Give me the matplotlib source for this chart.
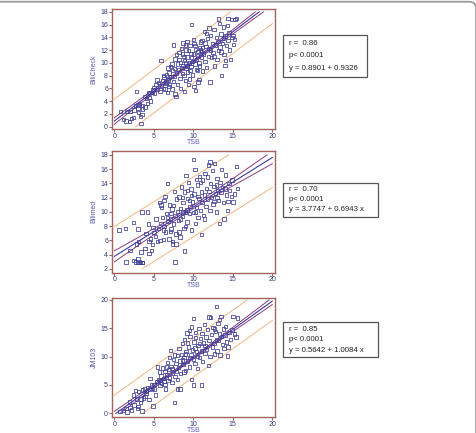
import numpy as np
import matplotlib
matplotlib.use("Agg")
import matplotlib.pyplot as plt
from matplotlib.patches import FancyBboxPatch

plt.rcParams['font.family'] = ['Liberation Sans', 'DejaVu Sans']

# ---------------- data ----------------
tsb_1 = [0.8,1.2,1.5,1.6,2.0,2.2,2.5,2.7,2.8,3.0,3.1,3.3,3.4,3.5,3.2,3.6,3.8,3.9,4.1,4.3,4.5,4.6,4.8,4.9,3.6,2.4,1.9,4.2,3.0,4.4,
         5.0,5.1,5.3,5.5,5.6,5.8,5.9,6.0,6.1,6.2,6.3,6.4,6.5,6.6,6.7,6.8,6.9,7.0,7.1,7.2,7.3,7.4,7.5,7.6,7.7,7.8,7.9,8.0,7.5,6.6,6.2,5.4,6.8,7.7,7.9,8.0,7.3,6.9,7.6,
         8.1,8.2,8.3,8.4,8.5,8.6,8.7,8.8,8.9,9.0,9.0,9.1,9.2,9.3,9.4,9.5,9.5,9.6,9.7,9.8,9.9,10.0,10.1,10.1,10.2,10.3,10.3,10.4,10.5,10.6,10.7,10.8,10.9,11.0,9.8,10.0,8.4,8.7,8.9,9.2,9.4,10.6,10.9,8.6,9.1,9.7,10.2,10.4,9.3,10.7,8.2,9.6,10.5,8.8,9.9,9.0,10.8,8.5,
         11.1,11.2,11.3,11.4,11.5,11.6,11.7,11.8,11.9,12.0,12.1,12.2,12.3,12.4,12.5,12.6,12.7,12.8,12.9,13.0,13.1,13.2,13.3,13.4,13.5,13.6,13.7,13.8,13.9,14.0,14.1,14.2,14.3,14.4,14.5,14.6,14.8,15.0,15.2,15.3,15.5,15.1,14.7,14.0,13.2,12.0,11.7,11.2,12.6,13.5,14.4,14.9,11.0,12.2,13.8,11.5]
bilicheck = [2.4,1.1,0.9,2.4,2.4,1.3,2.6,3.3,5.5,2.9,2.2,1.6,0.5,1.9,3.6,3.3,4.7,3.1,4.4,5.3,5.4,4.0,5.4,5.8,2.8,1.4,0.8,3.6,3.4,4.6,
             6.1,5.3,6.6,5.8,6.9,5.5,10.4,6.4,7.2,6.0,7.8,5.9,6.8,8.1,5.4,7.3,8.4,6.6,9.4,7.9,5.9,8.8,7.1,9.1,5.1,4.7,8.4,9.8,12.8,7.0,8.0,7.3,9.2,10.6,11.3,6.6,9.8,6.3,7.9,
             9.0,11.6,7.6,10.1,12.3,8.3,9.6,11.0,10.4,7.2,12.8,9.1,10.9,8.6,11.9,10.0,7.5,12.7,9.4,10.8,8.1,11.4,6.3,13.0,9.8,5.7,12.1,10.5,8.8,11.8,7.4,9.5,13.3,10.9,16.0,13.7,6.0,13.1,5.5,13.4,6.6,7.0,12.0,11.4,12.0,11.5,12.7,9.0,9.5,10.0,10.5,8.8,11.1,8.0,10.2,10.0,12.4,9.3,
             13.5,8.7,11.4,14.9,10.2,12.6,9.3,13.8,11.0,12.3,7.0,14.3,10.8,13.0,11.6,15.2,9.5,12.8,14.0,10.5,13.4,11.9,16.2,12.5,14.5,8.0,13.0,15.6,11.3,14.2,10.4,12.7,15.9,13.5,14.8,12.0,16.8,14.3,13.7,16.8,17.0,12.9,10.5,9.6,16.9,15.5,14.6,12.4,11.0,11.7,17.0,14.0,11.8,12.0,13.9,13.1]

tsb_2 = [0.6,1.4,1.5,2.0,2.4,2.5,2.7,2.9,3.0,3.2,3.3,3.5,3.6,3.0,2.8,3.4,3.5,4.2,4.3,4.4,4.6,4.8,4.4,3.9,4.9,4.0,5.0,4.7,3.1,
         5.2,5.3,5.5,5.6,5.7,5.8,5.9,6.0,6.1,6.2,6.3,6.4,6.5,6.6,6.7,6.8,6.9,7.0,7.1,7.2,7.3,7.4,7.5,7.6,7.7,7.7,7.8,7.9,8.0,7.8,7.4,6.7,5.9,6.2,7.1,7.5,6.3,7.2,
         8.1,8.2,8.3,8.4,8.5,8.6,8.7,8.8,8.9,8.9,9.0,9.1,9.2,9.3,9.4,9.5,9.6,9.7,9.8,9.9,10.0,10.0,10.1,10.2,10.3,10.4,10.5,10.6,10.7,10.8,10.9,11.0,11.0,8.4,8.7,9.2,9.5,10.3,10.6,9.0,8.2,9.8,10.4,9.3,8.6,10.9,
         11.1,11.2,11.3,11.4,11.5,11.6,11.7,11.8,11.9,12.0,12.1,12.2,12.3,12.4,12.5,12.6,12.7,12.8,12.9,13.0,13.1,13.2,13.3,13.4,13.5,13.6,13.7,13.8,13.9,14.0,14.1,14.2,14.4,14.6,14.8,15.0,15.2,15.5,15.6,14.9,14.3,12.1,11.4,12.9,11.8,13.0,14.5,12.6]
bilimed = [7.5,7.7,3.0,4.6,8.5,3.2,3.0,2.9,3.4,3.0,2.9,2.9,2.9,7.6,5.5,4.4,10.0,10.0,8.3,5.9,6.2,5.4,4.2,4.9,7.8,7.0,7.1,4.6,5.9,
           6.6,9.0,5.9,7.7,11.3,6.0,8.4,10.6,9.2,6.1,8.0,12.2,7.2,9.8,14.0,8.7,6.2,11.0,9.0,7.6,10.4,5.5,8.3,12.9,3.0,9.5,6.9,11.8,10.1,5.5,5.9,9.2,11.0,7.5,7.3,10.9,11.6,9.8,
           8.8,12.1,6.5,10.5,13.5,9.4,11.3,7.7,4.5,12.8,10.0,15.1,8.6,11.9,14.1,9.8,10.8,13.2,7.5,11.4,17.4,9.9,12.5,16.0,8.4,10.6,13.8,9.2,11.9,15.0,10.2,12.8,6.8,9.0,10.0,10.3,11.6,10.0,12.2,8.0,7.2,12.3,14.6,13.0,12.0,14.1,
           11.3,14.5,9.5,12.4,15.4,10.8,13.3,11.8,16.6,12.9,10.2,14.0,12.0,15.8,11.1,13.6,16.8,12.6,10.0,14.7,13.0,11.6,8.4,14.1,12.7,16.0,13.4,11.3,9.0,13.2,15.2,12.4,11.5,13.0,12.2,11.4,12.5,16.4,13.3,14.5,10.2,17.0,9.0,13.8,14.9,12.0,14.0,11.5]

tsb_3 = [0.7,1.2,1.5,1.6,1.9,2.2,2.4,2.5,2.7,2.8,2.9,3.0,3.1,3.3,3.4,3.5,3.6,3.7,3.8,4.0,4.2,4.4,4.5,4.7,4.9,4.5,3.9,2.0,4.8,4.1,
         5.0,5.1,5.2,5.4,5.5,5.6,5.7,5.8,5.9,6.0,6.1,6.2,6.3,6.4,6.5,6.6,6.7,6.8,6.9,7.0,7.1,7.2,7.3,7.4,7.5,7.6,7.7,7.8,7.9,8.0,8.0,8.3,7.3,6.6,5.8,7.0,6.4,7.6,8.0,
         8.1,8.2,8.3,8.4,8.5,8.6,8.7,8.8,8.9,9.0,9.1,9.2,9.3,9.4,9.5,9.6,9.7,9.8,9.8,9.9,10.0,10.0,10.0,10.1,10.2,10.3,10.4,10.5,10.6,10.7,10.8,10.9,11.0,11.0,8.6,9.0,9.3,9.6,10.2,10.5,10.8,8.8,9.5,10.3,
         11.1,11.2,11.3,11.4,11.5,11.6,11.7,11.8,11.9,12.0,12.1,12.2,12.3,12.4,12.5,12.6,12.7,12.8,12.9,12.9,13.0,13.1,13.2,13.3,13.4,13.5,13.6,13.7,13.8,13.9,14.0,14.1,14.2,14.3,14.5,14.7,14.9,15.0,15.2,15.4,15.6,14.4,12.0,11.5,12.7,13.3]
jm103 = [0.3,0.5,0.9,0.2,2.0,0.6,3.2,1.5,4.0,2.5,0.9,1.2,3.8,1.9,2.5,0.4,4.1,2.7,4.3,3.5,4.6,2.4,4.2,5.0,1.3,6.1,3.0,1.0,4.4,3.9,
         5.1,4.3,3.2,5.6,8.2,6.0,7.3,4.9,6.6,5.3,8.0,6.1,5.6,7.4,4.3,6.9,9.0,5.8,7.7,6.2,11.1,8.3,5.4,7.0,9.5,1.9,6.5,8.8,7.4,10.2,4.3,4.3,7.9,8.2,5.8,9.9,5.1,10.3,6.0,
         8.1,11.4,9.2,7.0,10.4,12.3,8.6,9.8,13.0,7.6,10.9,14.2,9.2,11.7,8.2,13.6,10.3,15.2,6.0,11.2,16.7,9.5,5.0,12.6,8.8,14.3,10.9,7.9,12.0,15.0,9.8,13.2,11.0,5.0,9.4,10.5,12.4,9.9,11.5,10.0,12.3,7.3,14.6,13.4,
         14.1,9.1,12.4,15.7,10.6,13.5,11.3,14.8,8.4,12.9,10.0,16.9,13.9,11.7,15.1,12.3,10.5,14.4,18.9,13.0,11.0,15.8,12.8,14.0,10.3,17.1,13.6,12.1,14.9,11.4,13.8,15.3,12.6,10.1,14.3,13.0,14.7,17.1,14.0,13.5,16.8,11.7,17.0,12.0,14.9,16.6]

y_names = ["BiliCheck", "Bilimed", "JM103"]
stats_text = [["r =  0.86", "p< 0.0001", "y = 0.8901 + 0.9326"],
              ["r =  0.70", "p< 0.0001", "y = 3.7747 + 0.6943 x"],
              ["r =  0.85", "p< 0.0001", "y = 0.5642 + 1.0084 x"]]
# fitted lines as drawn: intercept, slope
line_intercepts = [0.89, 3.77, -0.2]
line_slopes = [0.933, 0.694, 1.0]
pred_half = [3.4, 4.2, 3.4]        # prediction interval half width
conf_half_mid = [0.2, 0.25, 0.2]   # confidence band half width at mean x
conf_half_zero = [0.5, 0.77, 0.55] # confidence band half width at x = 0
mean_x = [9.3, 9.3, 9.3]
y_ticks = [[0, 2, 4, 6, 8, 10, 12, 14, 16, 18],
           [2, 4, 6, 8, 10, 12, 14, 16, 18],
           [0, 5, 10, 15, 20]]
y_lims = [(-0.36, 18.4), (1.48, 18.56), (-0.7, 20.4)]
x_ticks = [0, 5, 10, 15, 20]

xs = [tsb_1, tsb_2, tsb_3]
ys = [bilicheck, bilimed, jm103]

# ---------------- styling ----------------
W, H = 477, 433
fig = plt.figure(figsize=(W / 100, H / 100), dpi=100)

spine_c = '#a0645c'
tick_c = '#3a3a80'
lab_c = '#5a5ab4'
pt_c = '#3c3c96'
blue_c = '#3a3aa6'
purple_c = '#8c3c78'
orange_c = '#f3b582'

axes_px = [(111.7, 9.3, 275, 129), (111.7, 151, 275, 272.7), (111.7, 297.7, 275, 417.3)]
box_px = [(282.7, 34.7, 367, 77), (282.7, 182.7, 377.7, 216.7), (282.7, 322.3, 377.7, 357.3)]


def clipped(ax, x, y, lo, hi, **kw):
    y = np.where((y >= lo) & (y <= hi), y, np.nan)
    ax.plot(x, y, **kw)


for i in range(3):
    l, t, r, b = axes_px[i]
    ax = fig.add_axes([l / W, 1 - b / H, (r - l) / W, (b - t) / H])
    ax.set_xlim(-0.33, 20.34)
    ax.set_ylim(*y_lims[i])
    ylo, yhi = y_ticks[i][0], y_ticks[i][-1]

    xx = np.linspace(0, 20, 4000)
    a, s = line_intercepts[i], line_slopes[i]
    yy = a + s * xx
    k = (conf_half_zero[i] ** 2 - conf_half_mid[i] ** 2) / mean_x[i] ** 2
    hc = np.sqrt(conf_half_mid[i] ** 2 + k * (xx - mean_x[i]) ** 2)
    clipped(ax, xx, yy + pred_half[i], ylo, yhi, color=orange_c, lw=0.7)
    clipped(ax, xx, yy - pred_half[i], ylo, yhi, color=orange_c, lw=0.7)
    clipped(ax, xx, yy + hc, ylo, yhi, color=purple_c, lw=0.7)
    clipped(ax, xx, yy - hc, ylo, yhi, color=purple_c, lw=0.7)
    clipped(ax, xx, yy, ylo, yhi, color=blue_c, lw=0.8)

    ax.scatter(xs[i], ys[i], marker='s', s=6, facecolors='none',
               edgecolors=pt_c, linewidths=0.55, zorder=3)

    ax.set_xticks(x_ticks)
    ax.set_yticks(y_ticks[i])
    for sp in ax.spines.values():
        sp.set_color(spine_c)
        sp.set_linewidth(1.0)
    ax.tick_params(direction='out', length=2.0, width=0.8, color=spine_c,
                   labelcolor=tick_c, labelsize=5.0, pad=0.6)
    ax.set_xlabel('TSB', fontsize=5.0, color=lab_c)
    ax.xaxis.set_label_coords(0.5, -9.6 / (b - t))
    ax.set_ylabel(y_names[i], fontsize=5.0, color=lab_c, labelpad=2)

    bl, bt, br, bb = box_px[i]
    fig.patches.append(plt.Rectangle((bl / W, 1 - bb / H), (br - bl) / W, (bb - bt) / H,
                                     transform=fig.transFigure, fill=False,
                                     edgecolor='#555555', lw=0.9))
    n = len(stats_text[i])
    gap = (bb - bt) / (n + 0.4)
    for j, line in enumerate(stats_text[i]):
        yc = bt + gap * (0.7 + j)
        fig.text((bl + 6.5) / W, 1 - yc / H, line, fontsize=5.6, color='#222222',
                 va='center', ha='left')

# outer rounded frame
frame = FancyBboxPatch((-0.02, -0.02), 1.018, 1.016, boxstyle='round,pad=0,rounding_size=0.015',
                       transform=fig.transFigure, fill=False, edgecolor='#9a9a9a', lw=1.3)
fig.patches.append(frame)

fig.savefig('out.png', dpi=100)
